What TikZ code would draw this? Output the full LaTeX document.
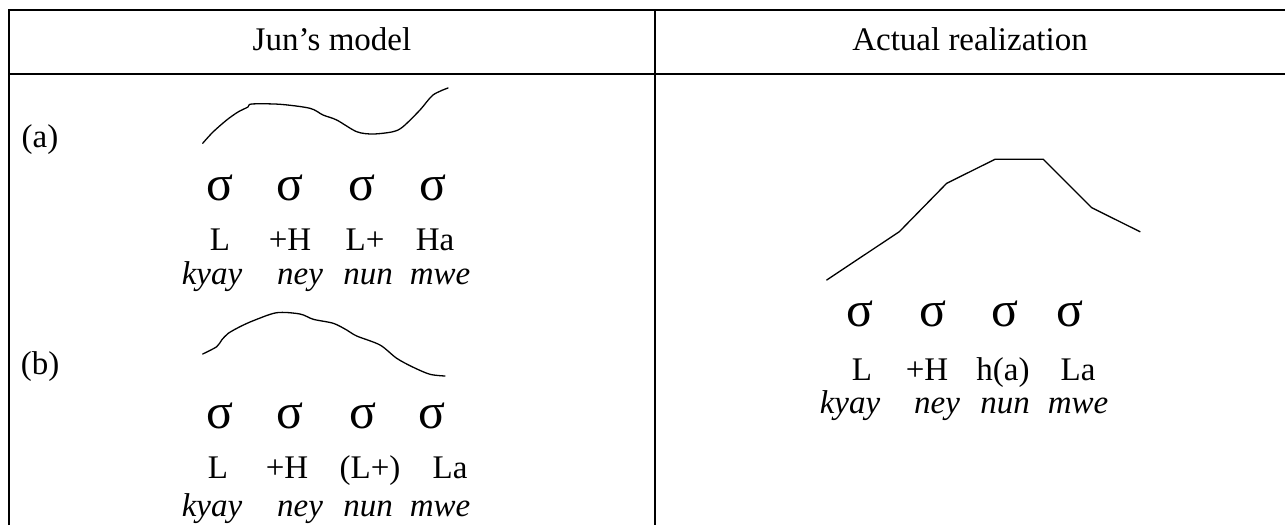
\documentclass[tikz,border=0pt]{standalone}
\usepackage{fontspec}
\setmainfont{Liberation Serif}
\usetikzlibrary{positioning}

\tikzset{
  hdr/.style={font=\fontsize{16.5}{19}\selectfont, inner sep=0pt, anchor=base},
  tone/.style={font=\fontsize{16.5}{19}\selectfont, inner sep=0pt, anchor=base},
  word/.style={font=\fontsize{16.5}{19}\selectfont\itshape, inner sep=0pt, anchor=base},
  syl/.style={font=\fontsize{25}{27}\selectfont, inner sep=0pt, anchor=base},
  pitch/.style={line width=0.65pt, line join=round, line cap=round}
}

\begin{document}
\begin{tikzpicture}[x=0.5pt, y=-0.5pt]
\useasboundingbox (0,0) rectangle (1285,525);
% table frame
\draw[line width=1pt] (9,525) -- (9,10) -- (1285,10);
\draw[line width=1pt] (9,74) -- (1285,74);
\draw[line width=1pt] (655,10) -- (655,525);
\node[hdr] (hjun) at (332,50) {Jun’s model};
\node[hdr] (hact) at (970,50) {Actual realization};

% (a)
\node[tone] (laba) at (40,147) {(a)};
\draw[pitch] plot[smooth, tension=0.5] coordinates {(202.7,143.3) (213,132) (226.7,120) (238,112) (248,107) (251.7,104)
  (280,104.3) (310,108.3) (323,115) (336.7,120) (356.7,131.7) (373,134) (393,131.7) (403,126.7) (420,110) (433,95) (448,88)};
\foreach \i/\x in {1/220, 2/290, 3/362, 4/433}
  \node[syl] (sa\i) at (\x,200) {σ};
\node[tone] (ta1) at (220,250) {L};
\node[tone] (ta2) at (290,250) {+H};
\node[tone] (ta3) at (365,250) {L+};
\node[tone] (ta4) at (435,250) {Ha};
\node[word] (wa1) at (212,284) {kyay};
\node[word] (wa2) at (300,284) {ney};
\node[word] (wa3) at (368,284) {nun};
\node[word] (wa4) at (440,284) {mwe};

% (b)
\node[tone] (labb) at (40,374) {(b)};
\draw[pitch] plot[smooth, tension=0.5] coordinates {(202.7,354) (216.7,346.7) (221.7,340) (228.3,333.3) (240,326.7)
  (253.3,320.7) (276.7,312.7) (300,314) (313.3,319.3) (333.3,323.3) (346.7,330) (356.7,336) (380,345) (396.7,358.3)
  (413.3,367.3) (430,374.3) (445,376)};
\foreach \i/\x in {1/220, 2/290, 3/363, 4/432}
  \node[syl] (sb\i) at (\x,428) {σ};
\node[tone] (tb1) at (218,478) {L};
\node[tone] (tb2) at (287,478) {+H};
\node[tone] (tb3) at (370,478) {(L+)};
\node[tone] (tb4) at (450,478) {La};
\node[word] (wb1) at (212,516) {kyay};
\node[word] (wb2) at (300,516) {ney};
\node[word] (wb3) at (368,516) {nun};
\node[word] (wb4) at (440,516) {mwe};

% actual realization
\draw[pitch] (826.7,280) -- (899.3,231.7) -- (946.7,183.3) -- (995,159.3) -- (1043.3,159.3) -- (1091.7,207.7) -- (1140,231.7);
\foreach \i/\x in {1/860, 2/933, 3/1005, 4/1070}
  \node[syl] (sc\i) at (\x,326) {σ};
\node[tone] (tc1) at (862,380) {L};
\node[tone] (tc2) at (927,380) {+H};
\node[tone] (tc3) at (1003,380) {h(a)};
\node[tone] (tc4) at (1078,380) {La};
\node[word] (wc1) at (850,413) {kyay};
\node[word] (wc2) at (937,413) {ney};
\node[word] (wc3) at (1005,413) {nun};
\node[word] (wc4) at (1078,413) {mwe};
\end{tikzpicture}
\end{document}
